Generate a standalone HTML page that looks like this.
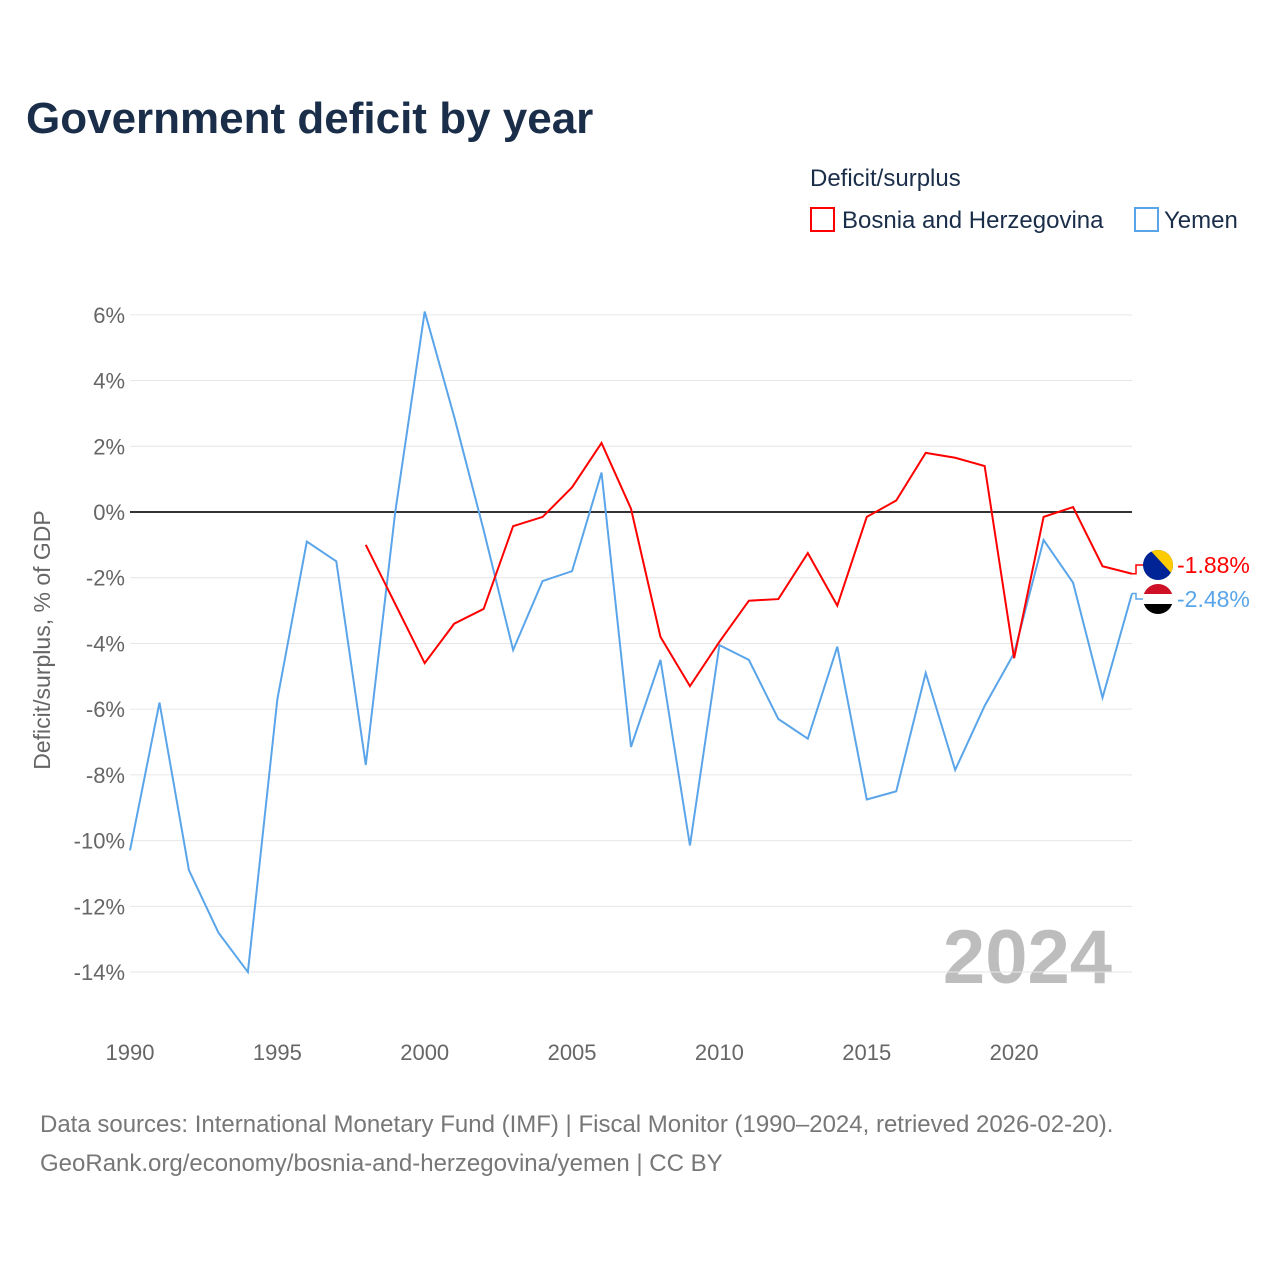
<!DOCTYPE html>
<html><head><meta charset="utf-8">
<style>
body{margin:0;background:#fff;font-family:"Liberation Sans",sans-serif;}
#wrap{position:relative;width:1280px;height:1280px;overflow:hidden;}
</style></head>
<body>
<div id="wrap">
<svg id="chart" width="1280" height="1280" xmlns="http://www.w3.org/2000/svg">
<defs>
<clipPath id="cba"><circle cx="1158" cy="565" r="15"/></clipPath>
<clipPath id="cye"><circle cx="1158" cy="599" r="15"/></clipPath>
</defs>
<text x="26" y="133" font-size="44" font-weight="bold" fill="#1a2e4a">Government deficit by year</text>
<text x="810" y="186" font-size="24" fill="#1a2e4a">Deficit/surplus</text>
<g><rect x="811" y="208" width="23" height="23" fill="none" stroke="#ff0000" stroke-width="2"/><text x="842" y="228" font-size="24" fill="#1a2e4a">Bosnia and Herzegovina</text></g>
<g><rect x="1135" y="208" width="23" height="23" fill="none" stroke="#5aa5ea" stroke-width="2"/><text x="1164" y="228" font-size="24" fill="#1a2e4a">Yemen</text></g>
<text transform="translate(50,640) rotate(-90)" text-anchor="middle" font-size="23" fill="#666">Deficit/surplus, % of GDP</text>
<text x="1112" y="983" text-anchor="end" font-size="76" font-weight="bold" fill="#bdbdbd">2024</text>
<g id="grid"></g><g id="series"></g>
<text x="40" y="1132" font-size="24" fill="#777">Data sources: International Monetary Fund (IMF) | Fiscal Monitor (1990–2024, retrieved 2026-02-20).</text>
<text x="40" y="1171" font-size="24" fill="#777">GeoRank.org/economy/bosnia-and-herzegovina/yemen | CC BY</text>
</svg>
</div>
<script>
const years=[];for(let y=1990;y<=2024;y++)years.push(y);
const yemen=[-10.3,-5.8,-10.9,-12.8,-14.0,-5.7,-0.9,-1.5,-7.7,0.0,6.1,2.9,-0.55,-4.2,-2.1,-1.8,1.2,-7.15,-4.5,-10.15,-4.05,-4.5,-6.3,-6.9,-4.1,-8.75,-8.5,-4.9,-7.85,-5.9,-4.3,-0.85,-2.15,-5.65,-2.48];
const bosniaYears=[1998,1999,2000,2001,2002,2003,2004,2005,2006,2007,2008,2009,2010,2011,2012,2013,2014,2015,2016,2017,2018,2019,2020,2021,2022,2023,2024];
const bosnia=[-1.0,-2.8,-4.6,-3.4,-2.95,-0.43,-0.15,0.75,2.1,0.1,-3.8,-5.3,-3.95,-2.7,-2.65,-1.25,-2.85,-0.15,0.35,1.8,1.65,1.4,-4.45,-0.15,0.15,-1.65,-1.88];
const yTicks=[6,4,2,0,-2,-4,-6,-8,-10,-12,-14];
const xTicks=[1990,1995,2000,2005,2010,2015,2020];
const X=y=>130+(y-1990)*(1002/34);
const Y=v=>512-v*32.86;
const NS="http://www.w3.org/2000/svg";
const grid=document.getElementById('grid'),ser=document.getElementById('series');
function mk(tag,at,par){const e=document.createElementNS(NS,tag);for(const k in at)e.setAttribute(k,at[k]);par.appendChild(e);return e;}
yTicks.forEach(t=>{
 const l=mk('line',{x1:130,x2:1132,y1:Y(t),y2:Y(t),stroke:t===0?'#333':'#e6e6e6','stroke-width':t===0?2:1},grid);
 
 
 const tx=mk('text',{x:125,y:Y(t)+8,'text-anchor':'end','font-size':22,fill:'#666'},grid);
 tx.textContent=t+'%';
 
 
});
xTicks.forEach(t=>{
 const tx=mk('text',{x:X(t),y:1060,'text-anchor':'middle','font-size':22,fill:'#666'},grid);
 tx.textContent=t;
 
 
});
function line(xs,vs,col,name){
 const p=mk('polyline',{points:xs.map((x,i)=>X(x)+','+Y(vs[i])).join(' '),fill:'none',stroke:col,'stroke-width':2},ser);
 
 
}
line(years,yemen,'#5aa5ea','yemen-line');
line(bosniaYears,bosnia,'#ff0000','bosnia-line');
function endLabel(v,col,ly,name,flag){
 const p=mk('polyline',{points:X(2024)+','+Y(v)+' '+(X(2024)+4)+','+Y(v)+' '+(X(2024)+4)+','+ly+' '+(X(2024)+12)+','+ly,fill:'none',stroke:col,'stroke-width':1.5},ser);
 
 
 const g=mk('g',{'clip-path':flag==='ba'?'url(#cba)':'url(#cye)'},ser);
 
 
 if(flag==='ba'){mk('rect',{x:1143,y:ly-15,width:30,height:30,fill:'#002395'},g);mk('path',{d:`M1150 ${ly-15} L1173 ${ly-15} L1173 ${ly+10} Z`,fill:'#fecb00'},g);}
 else{mk('rect',{x:1143,y:ly-15,width:30,height:10,fill:'#ce1126'},g);mk('rect',{x:1143,y:ly-5,width:30,height:10,fill:'#fff'},g);mk('rect',{x:1143,y:ly+5,width:30,height:10,fill:'#000'},g);}
 const t=mk('text',{x:1177,y:ly+8,'font-size':23,fill:col},ser);
 t.textContent=v.toFixed(2)+'%';
 
 
}
endLabel(bosnia[bosnia.length-1],'#ff0000',565,'bosnia-end','ba');
endLabel(yemen[yemen.length-1],'#5aa5ea',599,'yemen-end','ye');
</script>
</body></html>
